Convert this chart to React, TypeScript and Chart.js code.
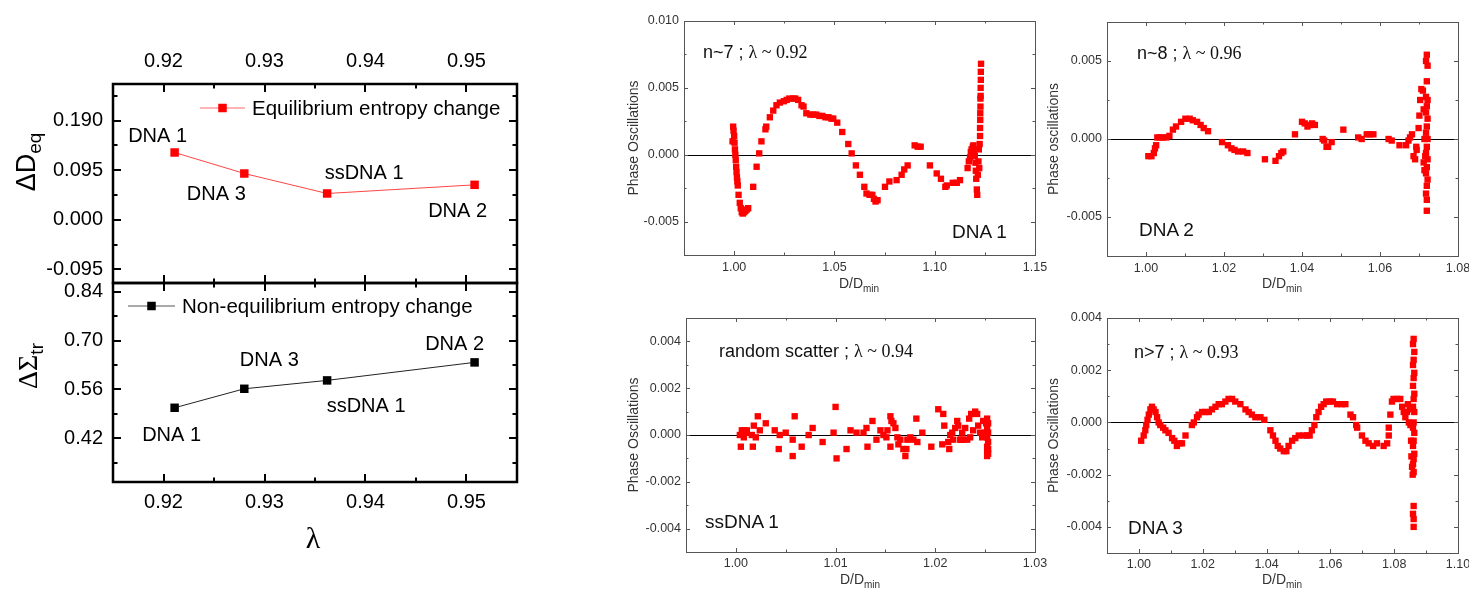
import React, { useEffect, useRef } from "react";
import { Chart, registerables } from "chart.js";

Chart.register(...registerables);

// ---------------- data ----------------
const sampleNames = ["DNA 1", "DNA 3", "ssDNA 1", "DNA 2"];
const lambdaValues = [0.9211, 0.928, 0.9362, 0.9508];
const equilibriumEntropy = [0.129, 0.0887, 0.0504, 0.067];
const nonEquilibriumEntropy = [0.5076, 0.562, 0.586, 0.6376];
const lambdaTicks = [0.92, 0.93, 0.94, 0.95];
const lambdaMinorTicks = [0.925, 0.935, 0.945];
const deqTicks = [-0.095, 0, 0.095, 0.19];
const deqMinorTicks = [-0.0475, 0.0475, 0.1425, 0.2375];
const sigmaTicks = [0.42, 0.56, 0.7, 0.84];
const sigmaMinorTicks = [0.35, 0.49, 0.63, 0.77];

const dna1Points: [number, number][] = [
  [0.9992, 0.001], [0.9995, 0.0021], [0.9997, 0.0018], [1.0, 0.0014], [1.0002, 0.0009],
  [1.0004, 0.0004], [1.0006, 0.0], [1.0008, -0.0004], [1.001, -0.0009], [1.0012, -0.0013],
  [1.0014, -0.0017], [1.0016, -0.002], [1.0018, -0.0023], [1.0022, -0.003], [1.0028, -0.0036],
  [1.0033, -0.004], [1.0038, -0.0043], [1.0043, -0.0044], [1.005, -0.0043], [1.0056, -0.0042],
  [1.0063, -0.0041], [1.007, -0.004], [1.0095, -0.0024], [1.0112, -0.0009], [1.0125, 0.0001],
  [1.0136, 0.001], [1.0156, 0.0019], [1.016, 0.0021], [1.0178, 0.0028], [1.0195, 0.0033],
  [1.0211, 0.0037], [1.0228, 0.0039], [1.0248, 0.004], [1.0262, 0.0041], [1.0275, 0.0042],
  [1.0295, 0.0042], [1.0305, 0.0042], [1.0319, 0.0041], [1.0336, 0.0037], [1.0346, 0.0036],
  [1.036, 0.0031], [1.038, 0.003], [1.0394, 0.003], [1.041, 0.003], [1.0425, 0.0029],
  [1.044, 0.0029], [1.0455, 0.0028], [1.047, 0.0028], [1.0485, 0.0027], [1.0494, 0.0027],
  [1.0514, 0.0024], [1.0539, 0.0017], [1.0569, 0.0008], [1.0586, 0.0001], [1.0607, -0.0008],
  [1.0627, -0.0015], [1.0649, -0.0024], [1.066, -0.0029], [1.0675, -0.003], [1.0689, -0.003],
  [1.0697, -0.0033], [1.0705, -0.0035], [1.0715, -0.0034], [1.0752, -0.0024], [1.0774, -0.002],
  [1.081, -0.0019], [1.0835, -0.0015], [1.0848, -0.0011], [1.0865, -0.0008], [1.09, 0.0007],
  [1.0915, 0.0006], [1.093, 0.0006], [1.0976, -0.0008], [1.101, -0.0014], [1.1031, -0.0018],
  [1.1053, -0.0024], [1.106, -0.0023], [1.109, -0.0021], [1.111, -0.0021], [1.1126, -0.0019],
  [1.1164, -0.001], [1.117, -0.0005], [1.1176, -0.0002], [1.118, 0.0002], [1.1184, 0.0004],
  [1.119, 0.0006], [1.1193, 0.0007], [1.1197, 0.0003], [1.12, -0.0001], [1.1203, -0.0006],
  [1.1205, -0.0012], [1.1207, -0.0018], [1.121, -0.0026], [1.1212, -0.003], [1.1215, -0.0015],
  [1.1218, -0.0005], [1.122, 0.0004], [1.1222, -0.001], [1.1224, 0.0008], [1.1226, 0.0014],
  [1.1226, 0.002], [1.1227, 0.0026], [1.1227, 0.0031], [1.1228, 0.0036], [1.1228, 0.0042],
  [1.1229, 0.0044], [1.1229, 0.005], [1.123, 0.0056], [1.123, 0.0062], [1.1231, 0.0068],
];

const dna2Points: [number, number][] = [
  [1.0006, -0.0011], [1.0014, -0.0011], [1.002, -0.0009], [1.0023, -0.0006], [1.0026, -0.0004],
  [1.0029, 0.0001], [1.0035, 0.0001], [1.0043, 0.0001], [1.0052, 0.0001], [1.006, 0.0002],
  [1.0069, 0.0006], [1.0077, 0.0008], [1.009, 0.0011], [1.0101, 0.0013], [1.0112, 0.0013],
  [1.012, 0.0012], [1.0131, 0.0011], [1.014, 0.0009], [1.0148, 0.0007], [1.0159, 0.0005],
  [1.0195, -0.0002], [1.021, -0.0004], [1.0219, -0.0006], [1.0227, -0.0007], [1.0236, -0.0008],
  [1.0249, -0.0008], [1.026, -0.0009], [1.0305, -0.0013], [1.0332, -0.0014], [1.0341, -0.0011],
  [1.0347, -0.0009], [1.0352, -0.0008], [1.0382, 0.0003], [1.04, 0.0011], [1.0407, 0.001],
  [1.0414, 0.0008], [1.042, 0.0009], [1.0426, 0.001], [1.0433, 0.0009], [1.0453, 0.0],
  [1.0457, -0.0001], [1.0463, -0.0005], [1.0467, -0.0005], [1.0476, -0.0002], [1.0506, 0.0006],
  [1.0544, 0.0001], [1.0553, 0.0], [1.0566, 0.0003], [1.0574, 0.0003], [1.0583, 0.0003],
  [1.0622, 0.0], [1.063, -0.0001], [1.065, -0.0004], [1.0667, -0.0004], [1.0673, -0.0001],
  [1.0677, 0.0001], [1.0682, 0.0003], [1.0686, -0.0011], [1.069, -0.0013], [1.0693, -0.0005],
  [1.0694, -0.0007], [1.0699, 0.0007], [1.0701, 0.0015], [1.0703, 0.0025], [1.0706, 0.0032],
  [1.071, 0.0031], [1.0712, 0.0019], [1.0714, 0.0], [1.0716, -0.0011], [1.0712, -0.0015],
  [1.0714, -0.002], [1.072, 0.0054], [1.0718, 0.005], [1.0722, 0.0047], [1.072, 0.0037],
  [1.0718, 0.0027], [1.0722, 0.0025], [1.072, 0.0021], [1.0718, 0.0017], [1.0722, 0.0013],
  [1.072, 0.0008], [1.0718, 0.0004], [1.0722, 0.0], [1.072, -0.0005], [1.0718, -0.0009],
  [1.0722, -0.0013], [1.072, -0.0018], [1.0718, -0.0022], [1.0722, -0.0026], [1.072, -0.003],
  [1.0718, -0.0035], [1.072, -0.0039], [1.072, -0.0046],
];

const ssDna1Points: [number, number][] = [
  [1.0004, 0.0], [1.0005, -0.0005], [1.0006, 0.0002], [1.0008, 0.0002], [1.0008, -0.0001],
  [1.001, 0.0001], [1.0011, 0.0002], [1.0016, 0.0], [1.0017, -0.0005], [1.0018, 0.0004],
  [1.002, -0.0001], [1.0022, 0.0008], [1.0024, 0.0002], [1.003, 0.0005], [1.0039, 0.0002],
  [1.0043, -0.0006], [1.0044, 0.0], [1.005, 0.0001], [1.0057, -0.0002], [1.0057, -0.0009],
  [1.0059, 0.0008], [1.0066, -0.0005], [1.0073, 0.0], [1.0077, 0.0003], [1.0087, -0.0003],
  [1.0098, 0.0001], [1.01, 0.0012], [1.0101, -0.001], [1.0111, -0.0006], [1.0115, 0.0002],
  [1.0121, 0.0001], [1.0128, 0.0001], [1.0131, 0.0003], [1.0132, -0.0005], [1.0137, 0.0006],
  [1.0141, -0.0002], [1.0145, 0.0002], [1.0148, 0.0], [1.0151, -0.0001], [1.0152, 0.0002],
  [1.0155, 0.0008], [1.0155, -0.0005], [1.0156, 0.0006], [1.0158, 0.0005], [1.016, 0.0003],
  [1.0162, -0.0001], [1.0163, -0.0004], [1.0165, -0.0002], [1.0168, -0.0006], [1.017, -0.0009],
  [1.0171, -0.0006], [1.0172, -0.0002], [1.0175, -0.0001], [1.0178, -0.0002], [1.0181, 0.0007],
  [1.0182, -0.0003], [1.0187, 0.0001], [1.0196, -0.0005], [1.0203, 0.0011], [1.0207, -0.0004],
  [1.0208, 0.0009], [1.0209, 0.0004], [1.0213, -0.0003], [1.0214, -0.0006], [1.0215, 0.0],
  [1.0217, 0.0001], [1.0218, -0.0002], [1.022, 0.0003], [1.0222, 0.0006], [1.0223, 0.0004],
  [1.0225, -0.0002], [1.0226, -0.0002], [1.0227, 0.0001], [1.0228, -0.0002], [1.023, 0.0003],
  [1.0232, -0.0002], [1.0234, 0.0007], [1.0235, -0.0001], [1.0236, 0.0009], [1.0238, 0.0002],
  [1.024, 0.001], [1.0242, 0.0009], [1.0243, 0.0004], [1.0245, 0.0001], [1.0247, -0.0001],
  [1.0248, 0.0006], [1.025, 0.0001], [1.0251, 0.0005], [1.0252, -0.0005], [1.0252, 0.0007],
  [1.0253, 0.0005], [1.0252, 0.0003], [1.0253, 0.0001], [1.0252, -0.0001], [1.0253, -0.0003],
  [1.0253, -0.0006], [1.0252, -0.0007], [1.0253, -0.0008], [1.0252, -0.0009],
];

const dna3Points: [number, number][] = [
  [1.0007, -0.0007], [1.0015, -0.0005], [1.002, -0.0003], [1.0023, -0.0001], [1.0027, 0.0001],
  [1.0031, 0.0003], [1.0036, 0.0005], [1.0041, 0.0006], [1.0046, 0.0005], [1.0052, 0.0004],
  [1.0057, 0.0002], [1.0062, 0.0], [1.0067, -0.0001], [1.0076, -0.0002], [1.0083, -0.0003],
  [1.0093, -0.0004], [1.0104, -0.0006], [1.0111, -0.0007], [1.0119, -0.0009], [1.0128, -0.0008],
  [1.0135, -0.0008], [1.0146, -0.0005], [1.0166, -0.0001], [1.0172, 0.0], [1.0182, 0.0002],
  [1.0187, 0.0003], [1.0198, 0.0004], [1.0208, 0.0004], [1.0219, 0.0004], [1.0229, 0.0005],
  [1.024, 0.0006], [1.025, 0.0007], [1.026, 0.0007], [1.0271, 0.0008], [1.0281, 0.0009],
  [1.0292, 0.0009], [1.0302, 0.0008], [1.0318, 0.0007], [1.0334, 0.0005], [1.0344, 0.0004],
  [1.0354, 0.0003], [1.0365, 0.0002], [1.0381, 0.0002], [1.0393, 0.0001], [1.0412, -0.0003],
  [1.042, -0.0005], [1.0428, -0.0007], [1.0435, -0.0009], [1.0443, -0.001], [1.0454, -0.0011],
  [1.0462, -0.0011], [1.0469, -0.0009], [1.048, -0.0007], [1.049, -0.0006], [1.0501, -0.0005],
  [1.0516, -0.0005], [1.0527, -0.0005], [1.0535, -0.0005], [1.0542, -0.0003], [1.055, -0.0001],
  [1.0556, 0.0002], [1.0563, 0.0004], [1.0571, 0.0006], [1.0579, 0.0007], [1.0587, 0.0008],
  [1.0598, 0.0008], [1.0608, 0.0008], [1.0621, 0.0007], [1.0636, 0.0007], [1.0647, 0.0007],
  [1.0663, 0.0003], [1.0671, 0.0002], [1.0681, -0.0001], [1.0684, -0.0002], [1.0699, -0.0005],
  [1.071, -0.0007], [1.072, -0.0008], [1.0734, -0.0009], [1.0746, -0.0008], [1.0767, -0.0009],
  [1.0778, -0.0008], [1.0783, -0.0005], [1.0783, -0.0002], [1.0788, 0.0003], [1.0793, 0.0008],
  [1.0798, 0.0009], [1.0809, 0.0009], [1.0819, 0.0009], [1.0825, 0.0006], [1.083, 0.0004],
  [1.0835, 0.0002], [1.084, 0.0004], [1.0843, 0.0007], [1.0846, 0.0], [1.0849, 0.0005],
  [1.0851, -0.0001], [1.0853, -0.0007], [1.0854, -0.0013], [1.0856, -0.0017], [1.0858, -0.002],
  [1.0861, 0.0032], [1.0859, 0.003], [1.0863, 0.0027], [1.0861, 0.0024], [1.0859, 0.0022],
  [1.0863, 0.0019], [1.0861, 0.0017], [1.0859, 0.0014], [1.0863, 0.0011], [1.0861, 0.0009],
  [1.0859, 0.0006], [1.0863, 0.0004], [1.0861, 0.0], [1.0859, -0.0002], [1.0863, -0.0004],
  [1.0861, -0.0007], [1.0859, -0.0009], [1.0863, -0.0012], [1.0861, -0.0014], [1.0859, -0.0016],
  [1.0861, -0.0019], [1.0861, -0.0032], [1.0859, -0.0035], [1.0861, -0.0037], [1.0861, -0.004],
];

// ---------------- styles ----------------
const SANS = "'Liberation Sans', Arial, Helvetica, sans-serif";
const SERIF = "'Liberation Serif', 'Times New Roman', Times, serif";

type FrameCfg = {
  color: string;
  width: number;
  tickWidth: number;
  major: number;
  minor: number;
  xMajor: number[];
  xMinor: number[];
  yMajor: number[];
  yMinor: number[];
  zeroLine?: boolean;
};

function framePlugin(cfg: FrameCfg) {
  return {
    id: "frame",
    beforeDatasetsDraw(chart: any) {
      if (!cfg.zeroLine) return;
      const { ctx, chartArea: a, scales } = chart;
      const y = Math.round(scales.y.getPixelForValue(0)) + 0.5;
      ctx.save();
      ctx.strokeStyle = "#000";
      ctx.lineWidth = 1;
      ctx.beginPath();
      ctx.moveTo(a.left, y);
      ctx.lineTo(a.right, y);
      ctx.stroke();
      ctx.restore();
    },
    afterDraw(chart: any) {
      const { ctx, chartArea: a, scales } = chart;
      const off = cfg.width % 2 === 1 ? 0.5 : 0;
      ctx.save();
      ctx.strokeStyle = cfg.color;
      ctx.lineWidth = cfg.tickWidth;
      ctx.beginPath();
      const xt = (vals: number[], len: number) => {
        vals.forEach((v) => {
          const p = Math.round(scales.x.getPixelForValue(v)) + off;
          ctx.moveTo(p, a.bottom);
          ctx.lineTo(p, a.bottom - len);
          ctx.moveTo(p, a.top);
          ctx.lineTo(p, a.top + len);
        });
      };
      const yt = (vals: number[], len: number) => {
        vals.forEach((v) => {
          const p = Math.round(scales.y.getPixelForValue(v)) + off;
          ctx.moveTo(a.left, p);
          ctx.lineTo(a.left + len, p);
          ctx.moveTo(a.right, p);
          ctx.lineTo(a.right - len, p);
        });
      };
      xt(cfg.xMajor, cfg.major);
      xt(cfg.xMinor, cfg.minor);
      yt(cfg.yMajor, cfg.major);
      yt(cfg.yMinor, cfg.minor);
      ctx.stroke();
      ctx.lineWidth = cfg.width;
      ctx.strokeRect(a.left + off, a.top + off, a.right - a.left, a.bottom - a.top);
      ctx.restore();
    },
  };
}

type DecorCfg = {
  legendText: string;
  lineColor: string;
  markColor: string;
  legendX: number;
  legendLen: number;
  legendY: number;
  values: number[];
  labelOffsets: [number, number][];
};

function leftDecorPlugin(cfg: DecorCfg) {
  return {
    id: "leftDecor",
    afterDatasetsDraw(chart: any) {
      const { ctx, chartArea: a, scales } = chart;
      ctx.save();
      ctx.font = `20px ${SANS}`;
      ctx.fillStyle = "#000";
      ctx.textAlign = "center";
      ctx.textBaseline = "middle";
      sampleNames.forEach((name, i) => {
        const px = scales.x.getPixelForValue(lambdaValues[i]) + cfg.labelOffsets[i][0];
        const py = scales.y.getPixelForValue(cfg.values[i]) + cfg.labelOffsets[i][1];
        ctx.fillText(name, px, py);
      });
      const lx = a.left + cfg.legendX;
      const ly = a.top + cfg.legendY;
      ctx.strokeStyle = cfg.lineColor;
      ctx.lineWidth = 1;
      ctx.beginPath();
      ctx.moveTo(lx, ly);
      ctx.lineTo(lx + cfg.legendLen, ly);
      ctx.stroke();
      ctx.fillStyle = cfg.markColor;
      ctx.fillRect(lx + cfg.legendLen / 2 - 4.25, ly - 4.25, 8.5, 8.5);
      ctx.fillStyle = "#000";
      ctx.textAlign = "left";
      ctx.font = `20.5px ${SANS}`;
      ctx.fillText(cfg.legendText, lx + cfg.legendLen + 7, ly + 1);
      ctx.restore();
    },
  };
}

type AxisCfg = {
  position: string;
  min: number;
  max: number;
  ticks: number[];
  digits: number;
  size: number;
  fontSize: number;
  color: string;
  padding: number;
  title?: string;
  titlePad?: number;
};

function axis(c: AxisCfg) {
  const horizontal = c.position === "top" || c.position === "bottom";
  return {
    type: "linear",
    position: c.position,
    min: c.min,
    max: c.max,
    grid: { display: false, drawTicks: false },
    border: { display: false },
    ticks: {
      autoSkip: false,
      maxRotation: 0,
      minRotation: 0,
      padding: c.padding,
      color: c.color,
      font: { family: SANS, size: c.fontSize },
      callback: (v: number) => Number(v).toFixed(c.digits),
    },
    title: c.title
      ? {
          display: true,
          text: c.title,
          color: "#333",
          font: { family: SANS, size: 14 },
          padding: { top: c.titlePad || 0, bottom: 0 },
        }
      : { display: false },
    afterBuildTicks: (s: any) => {
      s.ticks = c.ticks.map((v) => ({ value: v }));
    },
    afterFit: (s: any) => {
      if (horizontal) s.height = c.size;
      else s.width = c.size;
      s.paddingLeft = 0;
      s.paddingRight = 0;
      s.paddingTop = 0;
      s.paddingBottom = 0;
    },
  };
}

function range(a: number, b: number, step: number): number[] {
  const out: number[] = [];
  const n = Math.round((b - a) / step);
  for (let i = 0; i <= n; i++) out.push(Number((a + i * step).toFixed(6)));
  return out;
}

type PhaseCfg = {
  points: [number, number][];
  xMin: number;
  xMax: number;
  xMajor: number[];
  xMinor: number[];
  yMin: number;
  yMax: number;
  yMajor: number[];
  yMinor: number[];
  yTitle: string;
  yWidth: number;
  xHeight: number;
  padTop: number;
  padRight: number;
  xPad: number;
};

function phaseConfig(p: PhaseCfg) {
  return {
    type: "scatter",
    data: {
      datasets: [
        {
          data: p.points.map(([x, y]) => ({ x, y })),
          pointStyle: "rect",
          pointRadius: 4.5,
          pointHoverRadius: 4.5,
          pointBackgroundColor: "#ff0000",
          pointBorderWidth: 0,
          showLine: false,
        },
      ],
    },
    options: {
      responsive: false,
      animation: false,
      events: [],
      layout: { autoPadding: false, padding: { left: 0, top: p.padTop, right: p.padRight, bottom: 0 } },
      plugins: { legend: { display: false }, tooltip: { enabled: false } },
      scales: {
        x: axis({
          position: "bottom", min: p.xMin, max: p.xMax, ticks: p.xMajor, digits: 2,
          size: p.xHeight, fontSize: 12.5, color: "#333", padding: p.xPad,
        }),
        y: axis({
          position: "left", min: p.yMin, max: p.yMax, ticks: p.yMajor, digits: 3,
          size: p.yWidth, fontSize: 12.5, color: "#333", padding: 5,
          title: p.yTitle, titlePad: 6,
        }),
      },
    },
    plugins: [
      framePlugin({
        color: "#555", width: 1, tickWidth: 1, major: 4, minor: 2.5,
        xMajor: p.xMajor, xMinor: p.xMinor, yMajor: p.yMajor, yMinor: p.yMinor, zeroLine: true,
      }),
    ],
  };
}

function topLeftConfig() {
  return {
    type: "scatter",
    data: {
      datasets: [
        {
          data: lambdaValues.map((x, i) => ({ x, y: equilibriumEntropy[i] })),
          showLine: true,
          borderColor: "#ff4545",
          borderWidth: 1,
          pointStyle: "rect",
          pointRadius: 6,
          pointHoverRadius: 6,
          pointBackgroundColor: "#ff0000",
          pointBorderWidth: 0,
        },
      ],
    },
    options: {
      responsive: false,
      animation: false,
      events: [],
      layout: { autoPadding: false, padding: { left: 0, top: 0, right: 43, bottom: 3 } },
      plugins: { legend: { display: false }, tooltip: { enabled: false } },
      scales: {
        x: axis({
          position: "top", min: 0.915, max: 0.955, ticks: lambdaTicks, digits: 2,
          size: 64, fontSize: 20, color: "#000", padding: 11,
        }),
        y: axis({
          position: "left", min: -0.1212, max: 0.2603, ticks: deqTicks, digits: 3,
          size: 113, fontSize: 20, color: "#000", padding: 10,
        }),
      },
    },
    plugins: [
      framePlugin({
        color: "#000", width: 2.5, tickWidth: 2, major: 8, minor: 4.5,
        xMajor: lambdaTicks, xMinor: lambdaMinorTicks, yMajor: deqTicks, yMinor: deqMinorTicks,
      }),
      leftDecorPlugin({
        legendText: "Equilibrium entropy change",
        lineColor: "#ff6a6a",
        markColor: "#ff0000",
        legendX: 87,
        legendLen: 45,
        legendY: 24,
        values: equilibriumEntropy,
        labelOffsets: [[-17, -16], [-28, 21], [37, -20], [-17, 27]],
      }),
    ],
  };
}

function bottomLeftConfig() {
  return {
    type: "scatter",
    data: {
      datasets: [
        {
          data: lambdaValues.map((x, i) => ({ x, y: nonEquilibriumEntropy[i] })),
          showLine: true,
          borderColor: "#222",
          borderWidth: 1,
          pointStyle: "rect",
          pointRadius: 6,
          pointHoverRadius: 6,
          pointBackgroundColor: "#000",
          pointBorderWidth: 0,
        },
      ],
    },
    options: {
      responsive: false,
      animation: false,
      events: [],
      layout: { autoPadding: false, padding: { left: 0, top: 23, right: 43, bottom: 0 } },
      plugins: { legend: { display: false }, tooltip: { enabled: false } },
      scales: {
        x: axis({
          position: "bottom", min: 0.915, max: 0.955, ticks: lambdaTicks, digits: 2,
          size: 78, fontSize: 20, color: "#000", padding: 8,
        }),
        y: axis({
          position: "left", min: 0.295, max: 0.865, ticks: sigmaTicks, digits: 2,
          size: 113, fontSize: 20, color: "#000", padding: 10,
        }),
      },
    },
    plugins: [
      framePlugin({
        color: "#000", width: 2.5, tickWidth: 2, major: 8, minor: 4.5,
        xMajor: lambdaTicks, xMinor: lambdaMinorTicks, yMajor: sigmaTicks, yMinor: sigmaMinorTicks,
      }),
      leftDecorPlugin({
        legendText: "Non-equilibrium entropy change",
        lineColor: "#555",
        markColor: "#000",
        legendX: 15,
        legendLen: 47,
        legendY: 23,
        values: nonEquilibriumEntropy,
        labelOffsets: [[-3, 28], [25, -28], [39, 26], [-20, -18]],
      }),
    ],
  };
}

const dna1Cfg = () =>
  phaseConfig({
    points: dna1Points, xMin: 0.975, xMax: 1.15, xMajor: [1.0, 1.05, 1.1, 1.15], xMinor: [1.025, 1.075, 1.125],
    yMin: -0.0075, yMax: 0.01, yMajor: [-0.005, 0, 0.005, 0.01], yMinor: [-0.0025, 0.0025, 0.0075],
    yTitle: "Phase Oscillations", yWidth: 64, xHeight: 45, padTop: 21, padRight: 25, xPad: 5,
  });
const dna2Cfg = () =>
  phaseConfig({
    points: dna2Points, xMin: 0.99, xMax: 1.08, xMajor: range(1.0, 1.08, 0.02), xMinor: range(1.01, 1.07, 0.02),
    yMin: -0.0075, yMax: 0.0075, yMajor: [-0.005, 0, 0.005], yMinor: [-0.0025, 0.0025],
    yTitle: "Phase oscillations", yWidth: 67, xHeight: 44, padTop: 22, padRight: 42, xPad: 5,
  });
const ssDna1Cfg = () =>
  phaseConfig({
    points: ssDna1Points, xMin: 0.995, xMax: 1.03, xMajor: [1.0, 1.01, 1.02, 1.03], xMinor: [1.005, 1.015, 1.025],
    yMin: -0.005, yMax: 0.005, yMajor: range(-0.004, 0.004, 0.002), yMinor: range(-0.003, 0.003, 0.002),
    yTitle: "Phase Oscillations", yWidth: 66, xHeight: 42, padTop: 18, padRight: 25, xPad: 4,
  });
const dna3Cfg = () =>
  phaseConfig({
    points: dna3Points, xMin: 0.99, xMax: 1.1, xMajor: range(1.0, 1.1, 0.02), xMinor: range(1.01, 1.09, 0.02),
    yMin: -0.005, yMax: 0.004, yMajor: range(-0.004, 0.004, 0.002), yMinor: range(-0.003, 0.003, 0.002),
    yTitle: "Phase Oscillations", yWidth: 67, xHeight: 41, padTop: 18, padRight: 42, xPad: 4,
  });

function ChartBox(props: { left: number; top: number; width: number; height: number; build: () => any }) {
  const ref = useRef<HTMLCanvasElement | null>(null);
  useEffect(() => {
    const chart = new Chart(ref.current as HTMLCanvasElement, props.build());
    return () => chart.destroy();
  }, []);
  return (
    <canvas
      ref={ref}
      width={props.width}
      height={props.height}
      style={{ position: "absolute", left: props.left, top: props.top, width: props.width, height: props.height }}
    />
  );
}

function Centered(props: { x: number; y: number; rotate?: boolean; children: any; style?: any }) {
  return (
    <div
      style={{
        position: "absolute",
        left: props.x,
        top: props.y,
        transform: `translate(-50%, -50%)${props.rotate ? " rotate(-90deg)" : ""}`,
        whiteSpace: "nowrap",
        lineHeight: 1,
        ...props.style,
      }}
    >
      {props.children}
    </div>
  );
}

function DTitle(props: { x: number; y: number }) {
  return (
    <Centered x={props.x} y={props.y} style={{ fontFamily: SANS, fontSize: 14, color: "#333" }}>
      D/D<span style={{ fontSize: 10, verticalAlign: "-4px" }}>min</span>
    </Centered>
  );
}

function Note(props: { x: number; y: number; a: string; b: string }) {
  return (
    <div
      style={{
        position: "absolute", left: props.x, top: props.y - 11, fontSize: 18, lineHeight: "22px",
        whiteSpace: "nowrap", color: "#111",
      }}
    >
      <span style={{ fontFamily: SANS }}>{props.a}</span>
      <span style={{ fontFamily: SERIF }}>{props.b}</span>
    </div>
  );
}

function Tag(props: { x: number; y: number; text: string }) {
  return (
    <div
      style={{
        position: "absolute", left: props.x, top: props.y - 11, fontSize: 19, lineHeight: "22px",
        whiteSpace: "nowrap", color: "#111", fontFamily: SANS,
      }}
    >
      {props.text}
    </div>
  );
}

export default function App() {
  return (
    <div
      style={{
        position: "absolute", left: 0, top: 0, width: 1469, height: 594, overflow: "hidden", background: "#fff",
      }}
    >
      <ChartBox left={0} top={20} width={560} height={266} build={topLeftConfig} />
      <ChartBox left={0} top={260} width={560} height={300} build={bottomLeftConfig} />
      <ChartBox left={620} top={0} width={440} height={300} build={dna1Cfg} />
      <ChartBox left={1040} top={0} width={460} height={300} build={dna2Cfg} />
      <ChartBox left={620} top={300} width={440} height={294} build={ssDna1Cfg} />
      <ChartBox left={1040} top={300} width={460} height={294} build={dna3Cfg} />

      <Centered x={28} y={162} rotate style={{ fontFamily: SANS, fontSize: 27, color: "#000" }}>
        ΔD<span style={{ fontSize: 19, verticalAlign: "-6px" }}>eq</span>
      </Centered>
      <Centered x={30} y={366} rotate style={{ fontFamily: SERIF, fontSize: 28, color: "#000" }}>
        ΔΣ<span style={{ fontFamily: SANS, fontSize: 19, verticalAlign: "-6px" }}>tr</span>
      </Centered>
      <Centered x={313} y={538} style={{ fontFamily: SERIF, fontSize: 30, color: "#000" }}>
        λ
      </Centered>

      <DTitle x={859} y={285} />
      <DTitle x={1282} y={285} />
      <DTitle x={860} y={581} />
      <DTitle x={1282} y={581} />

      <Note x={703} y={52} a="n~7 ; " b="λ ~ 0.92" />
      <Note x={1137} y={53} a="n~8 ; " b="λ ~ 0.96" />
      <Note x={719} y={351} a="random scatter ; " b="λ ~ 0.94" />
      <Note x={1134} y={352} a="n>7 ; " b="λ ~ 0.93" />

      <Tag x={952} y={232} text="DNA 1" />
      <Tag x={1139} y={230} text="DNA 2" />
      <Tag x={705} y={522} text="ssDNA 1" />
      <Tag x={1128} y={528} text="DNA 3" />
    </div>
  );
}
